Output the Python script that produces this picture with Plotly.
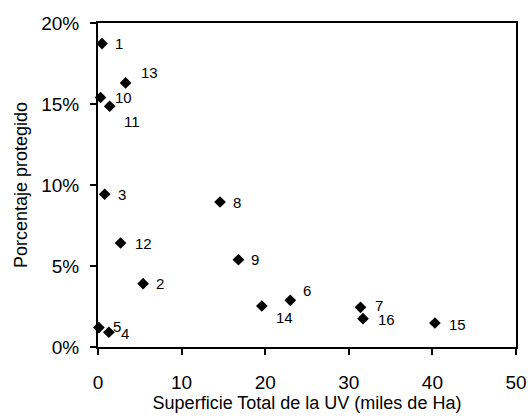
import plotly.graph_objects as go

labels = ["1", "2", "3", "4", "5", "6", "7", "8", "9", "10", "11", "12", "13", "14", "15", "16"]
superficie = [0.48, 5.4, 0.8, 1.3, 0.1, 23.0, 31.4, 14.6, 16.8, 0.3, 1.4, 2.7, 3.3, 19.6, 40.3, 31.7]
protegido = [0.1873, 0.0391, 0.0943, 0.0091, 0.012, 0.0288, 0.0245, 0.0895, 0.0539, 0.154, 0.1486, 0.0642, 0.163, 0.0253, 0.0148, 0.0175]
x_ticks = [0, 10, 20, 30, 40, 50]
y_ticks = [0, 0.05, 0.10, 0.15, 0.20]

# label offsets (pixels) relative to each marker
label_dx = {"1": 11, "2": 11, "3": 11, "4": 10, "5": 12, "6": 11, "7": 12, "8": 11, "9": 11,
            "10": 12, "11": 12, "12": 12, "13": 13, "14": 12, "15": 12, "16": 13}
label_dy = {"1": 0, "2": 0, "3": 0, "4": -1, "5": 1, "6": 10, "7": 2, "8": 0, "9": 0,
            "10": 0, "11": -15, "12": 0, "13": 10, "14": -11, "15": -1, "16": -1}

font = "Liberation Sans, Arial, sans-serif"

fig = go.Figure()
fig.add_trace(go.Scatter(
    x=superficie, y=protegido, mode="markers",
    marker=dict(symbol="diamond", size=9, color="black"),
    hoverinfo="skip", showlegend=False, cliponaxis=False,
))
# invisible copy carrying the label axes
fig.add_trace(go.Scatter(
    x=superficie, y=protegido, mode="markers", xaxis="x2", yaxis="y2",
    marker=dict(opacity=0), hoverinfo="skip", showlegend=False,
))

for lab, xv, yv in zip(labels, superficie, protegido):
    fig.add_annotation(x=xv, y=yv, xref="x", yref="y", text=lab, showarrow=False,
                       xanchor="left", yanchor="middle",
                       xshift=label_dx[lab], yshift=label_dy[lab],
                       font=dict(family=font, size=15, color="black"))

common = dict(showgrid=False, zeroline=False, automargin=False)

fig.update_layout(
    width=528, height=420,
    margin=dict(l=98, r=12, t=23, b=73),
    paper_bgcolor="white", plot_bgcolor="white",
    font=dict(family=font, color="black"),
    xaxis=dict(range=[0, 50], tickvals=x_ticks, showticklabels=False,
               showline=True, linecolor="black", linewidth=2, mirror=True,
               ticks="outside", ticklen=6, tickwidth=2, tickcolor="black", **common),
    yaxis=dict(range=[0, 0.20], tickvals=y_ticks, showticklabels=False,
               showline=True, linecolor="black", linewidth=2, mirror=True,
               ticks="outside", ticklen=6, tickwidth=2, tickcolor="black", **common),
    xaxis2=dict(range=[0, 50], tickvals=x_ticks, overlaying="x", side="bottom", anchor="y2",
                showline=False, ticks="outside", ticklen=18, tickcolor="rgba(0,0,0,0)",
                tickfont=dict(family=font, size=19),
                title=dict(text="Superficie Total de la UV (miles de Ha)",
                           font=dict(family=font, size=18), standoff=3), **common),
    yaxis2=dict(range=[0, 0.20], tickvals=y_ticks, tickformat=".0%", overlaying="y", side="left",
                anchor="x2",
                showline=False, ticks="outside", ticklen=14, tickcolor="rgba(0,0,0,0)",
                tickfont=dict(family=font, size=19),
                title=dict(text="Porcentaje protegido", font=dict(family=font, size=18), standoff=8),
                **common),
)

fig.write_html("out.html", post_script="document.body.style.margin='0';",
               config={"displayModeBar": False})
